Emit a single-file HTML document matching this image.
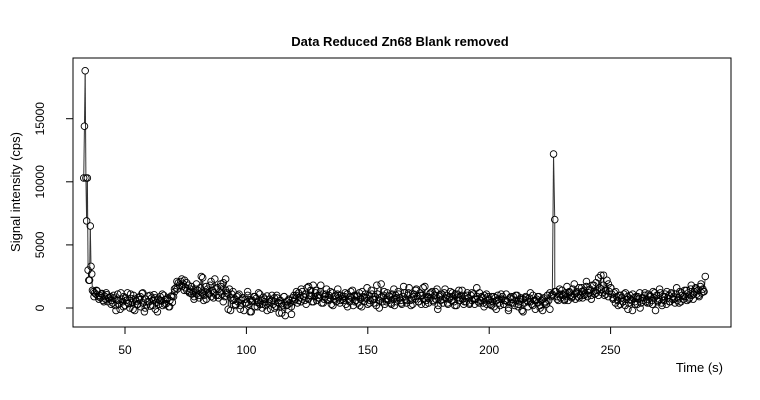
<!DOCTYPE html>
<html><head><meta charset="utf-8"><style>
body{margin:0;background:#fff}
svg{display:block;font-family:"Liberation Sans",Arial,sans-serif}
</style></head><body>
<svg id="chart" width="760" height="400" viewBox="0 0 760 400">
<rect width="760" height="400" fill="#fff"/>
<text x="400" y="46" text-anchor="middle" font-size="13" font-weight="bold">Data Reduced Zn68 Blank removed</text>
<rect x="73" y="58" width="658" height="269" fill="none" stroke="#000" stroke-width="1"/>
<text transform="translate(20,192) rotate(-90)" text-anchor="middle" font-size="13">Signal intensity (cps)</text>
<text x="723" y="372" text-anchor="end" font-size="13">Time (s)</text>
<g id="axes"></g>
<g id="marks"></g>
</svg>
<script>
const xTicks=[50,100,150,200,250];
const yTicks=[0,5000,10000,15000];
const startT=[33.0,33.3,33.6,33.9,34.2,34.5,34.8,35.1,35.4,35.7,36.0,36.3,36.6];
const startV=[10300,14400,18800,10300,6900,10300,3000,2200,2200,6500,3300,2700,1400];
const mainT0=37, mainT1=289;
const mainV=[1300,1200,1100,1350,900,1000,800,1150,600,950,700,1050,500,850,900,600,
400,800,200,650,1100,300,-100,700,500,900,200,600,1200,350,0,750,450,1000,-200,550,300,850,650,100,1150,400,-300,700,250,950,500,150,800,600,1050,-100,450,700,300,900,550,200,1000,650,350,800,100,600,950,450,
900,1300,1600,1500,2000,1800,2100,1700,1900,2200,1600,1400,1800,1200,1500,1100,
1300,900,1500,1100,1400,800,1600,1200,2400,1000,1300,700,1500,1100,1800,900,1400,1200,2300,1000,1600,800,1300,1700,1100,2000,900,1400,1200,-100,1500,800,1100,600,
700,300,900,500,1100,200,600,800,-200,700,400,1000,300,650,-300,500,900,100,750,450,1200,300,600,0,850,500,200,950,400,700,-100,600,300,800,150,1000,450,-400,600,350,200,900,-600,500,250,700,400,100,800,550,
700,1000,400,1200,800,500,1300,900,600,1100,1600,700,1000,1400,500,1800,900,1200,600,1000,800,1300,400,1100,700,900,1500,600,1000,800,300,1200,700,900,500,1100,800,400,1000,700,
600,900,300,1100,700,500,1300,800,200,1000,600,900,400,1200,700,100,900,500,1100,800,300,1000,600,1400,700,400,900,200,1100,600,800,1900,500,1000,300,700,1200,600,900,400,1100,700,200,1000,500,1300,800,600,300,900,1200,700,400,1000,1600,600,800,300,1100,700,1500,900,500,1200,300,1000,700,1700,600,900,400,1100,800,1300,500,1000,700,1500,200,900,600,1100,400,1200,800,1000,300,700,1300,600,900,500,1100,200,800,1400,600,1000,700,300,900,500,1200,800,400,1000,600,1100,300,700,900,500,1200,600,800,400,1000,700,300,900,
700,300,900,500,100,800,600,1000,400,200,700,900,300,600,1100,500,0,800,400,700,900,200,600,1000,300,500,800,-200,700,400,900,600,100,800,500,300,1000,600,-100,700,400,900,200,600,-200,800,500,300,1000,600,1200,900,1000,
12200,7000,
1300,900,600,1100,800,1400,1000,700,1200,900,600,1300,1000,800,1500,1100,700,1200,900,1600,1000,1300,800,1400,1100,1700,900,1200,1500,1000,1800,1300,1100,2000,1400,1000,1600,2600,1200,1800,1000,1400,2200,900,1300,
1600,1100,700,1200,400,900,600,1000,300,800,500,1100,200,700,900,400,1000,600,-200,800,500,900,300,700,1200,400,800,600,1000,500,
700,1100,400,900,600,1300,800,-200,1000,500,700,1200,400,900,600,1100,300,800,1000,500,1200,700,900,400,1100,600,800,1300,500,1000,700,1400,900,600,1200,800,1500,1000,700,1300,1600,1100,1400,900,1700,1200,1500,1300,2500];
const extraT0=37.25, extraT1=288.25;
const extraV=[900,1400,700,1100,500,1200,800,300,
1000,-200,600,1200,100,800,400,1100,-100,700,300,900,1200,0,500,1000,200,800,-300,600,1100,300,700,100,900,
1500,2100,1800,2300,1400,2000,1300,1700,
700,1900,1000,2500,600,1700,1200,2100,800,1500,1000,1900,500,2300,1100,-200,1300,
200,1000,-100,800,400,1300,-300,600,900,100,1100,300,700,-200,500,1000,0,800,400,-400,900,200,600,-500,1000,
1300,600,1500,900,300,1700,1000,500,1400,800,1800,400,1100,700,1300,200,1000,1500,600,900,
1200,100,900,1400,500,1000,200,1300,800,1600,400,1100,700,1800,0,900,1300,500,1000,300,1500,800,1100,400,1700,600,1200,200,900,1400,500,1000,1600,300,800,1200,600,1300,-100,1000,700,1500,400,900,1200,200,1100,800,1400,500,1000,300,1200,700,1600,400,900,100,1100,600,
200,900,-100,700,1100,300,600,-200,900,400,1000,100,700,-300,800,500,1200,200,600,900,0,700,400,1000,-100,1100,1300,
700,1500,1100,600,1700,1200,900,1900,1300,800,1600,1000,2100,1400,700,1800,1200,2400,1500,2600,1100,1900,1600,
800,1300,200,1000,500,1200,-100,700,1100,300,900,0,800,1200,400,
1000,300,1200,600,1500,200,900,1300,500,1100,700,1600,400,1200,900,1400,700,1800,1100,1500,1000,1900,1300];

const NS='http://www.w3.org/2000/svg';
const xS=t=>125+(t-50)*2.428;
const yS=v=>308-v*0.01262;
const axes=document.getElementById('axes'), marks=document.getElementById('marks');
function mk(tag,attrs,parent){const e=document.createElementNS(NS,tag);for(const k in attrs)e.setAttribute(k,attrs[k]);parent.appendChild(e);return e;}
mk('line',{x1:xS(xTicks[0]),x2:xS(xTicks[xTicks.length-1]),y1:327,y2:327,stroke:'#000'},axes);
xTicks.forEach(t=>{
  const l=mk('line',{x1:xS(t),x2:xS(t),y1:327,y2:334,stroke:'#000'},axes);
  
  
  const tx=mk('text',{x:xS(t),y:354,'text-anchor':'middle','font-size':12},axes);
  tx.textContent=t;
  
  
});
mk('line',{x1:73,x2:73,y1:yS(0),y2:yS(15000),stroke:'#000'},axes);
yTicks.forEach(v=>{
  const l=mk('line',{x1:66,x2:73,y1:yS(v),y2:yS(v),stroke:'#000'},axes);
  
  
  const tx=mk('text',{transform:`translate(44,${yS(v)}) rotate(-90)`,'text-anchor':'middle','font-size':12},axes);
  tx.textContent=v;
  
  
});
const P=[];
startT.forEach((t,i)=>P.push([t,startV[i]]));
const step=(mainT1-mainT0)/(mainV.length-1);
mainV.forEach((v,i)=>P.push([mainT0+step*i,v]));
const step2=(extraT1-extraT0)/(extraV.length-1);
extraV.forEach((v,i)=>P.push([extraT0+step2*i,v]));
P.sort((a,b)=>a[0]-b[0]);
const R=3.3;
for(let i=1;i<P.length;i++){
  const x1=xS(P[i-1][0]),y1=yS(P[i-1][1]),x2=xS(P[i][0]),y2=yS(P[i][1]);
  const d=Math.hypot(x2-x1,y2-y1);
  if(d>2*R+1){
    const ux=(x2-x1)/d,uy=(y2-y1)/d;
    const s=mk('line',{x1:x1+ux*R,y1:y1+uy*R,x2:x2-ux*R,y2:y2-uy*R,stroke:'#333','stroke-width':1},marks);
    
    
  }
}
P.forEach(p=>{
  const c=mk('circle',{cx:xS(p[0]),cy:yS(p[1]),r:R,fill:'none',stroke:'#000','stroke-width':0.9},marks);
  
  
});
</script>
</body></html>
